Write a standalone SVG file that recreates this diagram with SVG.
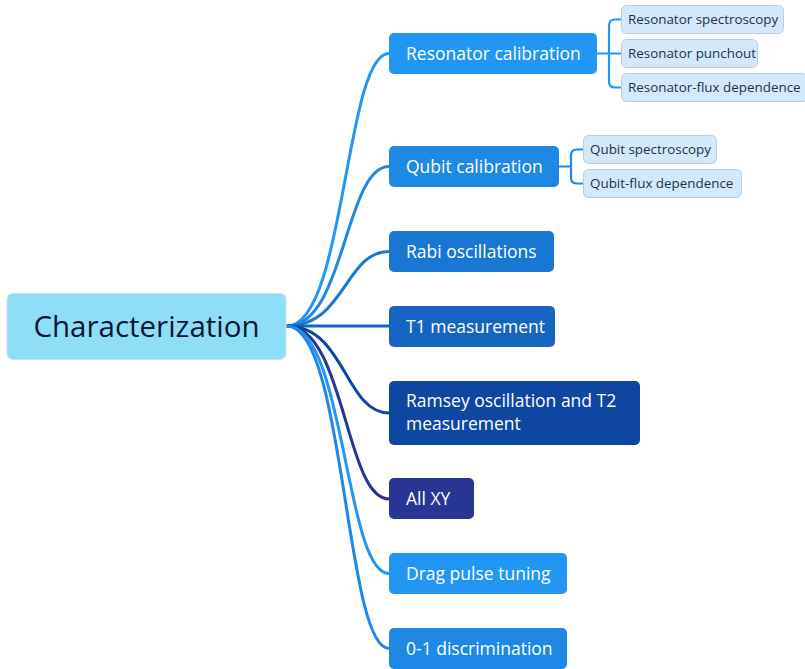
<svg xmlns="http://www.w3.org/2000/svg" width="805" height="669" viewBox="0 0 805 669">
  <style>
    .lbl { font-family: "Open Sans", "Noto Sans", "Liberation Sans", sans-serif; fill: #ffffff; font-size: 17.5px; }
    .sub rect { fill: #d4e8fb; stroke: #b9cde2; stroke-width: 1; }
    .sub text { font-family: "Open Sans", "Noto Sans", "Liberation Sans", sans-serif; fill: #1c3150; font-size: 13.4px; }
    .conn path { fill: none; stroke-width: 3; stroke-linecap: round; }
    .bracket path { fill: none; stroke-width: 2.2; stroke-linecap: round; stroke-linejoin: round; }
  </style>

  <!-- branches from the central topic -->
  <g id="connectors">
    <g class="conn">
      <path d="M287 326 C345 326 345 53.5 389 53.5" stroke="#2196f3"/>
      <path d="M287 326 C345 326 345 166.5 389 166.5" stroke="#1e88e5"/>
      <path d="M287 326 C345 326 345 251.5 389 251.5" stroke="#1976d2"/>
      <path d="M287 326 L389 326" stroke="#1565c0"/>
      <path d="M287 326 C345 326 345 413 389 413" stroke="#0d47a1"/>
      <path d="M287 326 C345 326 345 499 389 499" stroke="#283593"/>
      <path d="M287 326 C345 326 345 573.5 389 573.5" stroke="#2196f3"/>
      <path d="M287 326 C345 326 345 648.5 389 648.5" stroke="#1e88e5"/>
    </g>
    <g class="bracket">
      <path d="M597 53.5 H609" stroke="#2196f3"/>
      <path d="M621 19.5 H615 Q609 19.5 609 25.5 V81.5 Q609 87.5 615 87.5 H621 M609 53.5 H621" stroke="#2196f3"/>
      <path d="M559 166.5 H571" stroke="#1e88e5"/>
      <path d="M583 149.5 H577 Q571 149.5 571 155.5 V177.5 Q571 183.5 577 183.5 H583" stroke="#1e88e5"/>
    </g>
  </g>

  <!-- central topic -->
  <g id="root">
    <rect x="7" y="293.5" width="279" height="66" rx="6" fill="#8fdef8" stroke="#c6e3ee" stroke-width="1"/>
    <text x="146.5" y="337" text-anchor="middle" font-family="'Open Sans', 'Noto Sans', 'Liberation Sans', sans-serif" font-size="29.5" fill="#0b1838">Characterization</text>
  </g>

  <!-- main topics -->
  <g id="resonator-calibration">
    <rect x="389" y="33" width="208" height="41" rx="5" fill="#2196f3"/>
    <text class="lbl" x="406" y="59.5">Resonator calibration</text>
  </g>
  <g id="qubit-calibration">
    <rect x="389" y="146" width="170" height="41" rx="5" fill="#1e88e5"/>
    <text class="lbl" x="406" y="172.5">Qubit calibration</text>
  </g>
  <g id="rabi-oscillations">
    <rect x="389" y="231" width="165" height="41" rx="5" fill="#1976d2"/>
    <text class="lbl" x="406" y="257.5">Rabi oscillations</text>
  </g>
  <g id="t1-measurement">
    <rect x="389" y="306" width="166" height="41" rx="5" fill="#1565c0"/>
    <text class="lbl" x="406" y="332.5">T1 measurement</text>
  </g>
  <g id="ramsey">
    <rect x="389" y="381" width="251" height="64" rx="5" fill="#0d47a1"/>
    <text class="lbl" x="406" y="407">Ramsey oscillation and T2</text>
    <text class="lbl" x="406" y="430">measurement</text>
  </g>
  <g id="all-xy">
    <rect x="389" y="478" width="85" height="41" rx="5" fill="#283593"/>
    <text class="lbl" x="406" y="505">All XY</text>
  </g>
  <g id="drag-pulse-tuning">
    <rect x="389" y="553" width="178" height="41" rx="5" fill="#2196f3"/>
    <text class="lbl" x="406" y="579.5">Drag pulse tuning</text>
  </g>
  <g id="discrimination">
    <rect x="389" y="628" width="178" height="41" rx="5" fill="#1e88e5"/>
    <text class="lbl" x="406" y="654.5">0-1 discrimination</text>
  </g>

  <!-- subtopics -->
  <g id="resonator-spectroscopy" class="sub">
    <rect x="621.5" y="5.5" width="162" height="28" rx="5"/>
    <text x="628" y="24">Resonator spectroscopy</text>
  </g>
  <g id="resonator-punchout" class="sub">
    <rect x="621.5" y="39.5" width="136" height="28" rx="5"/>
    <text x="628" y="58">Resonator punchout</text>
  </g>
  <g id="resonator-flux" class="sub">
    <rect x="621.5" y="73.5" width="186" height="28" rx="5"/>
    <text x="628" y="92">Resonator-flux dependence</text>
  </g>
  <g id="qubit-spectroscopy" class="sub">
    <rect x="583.5" y="135.5" width="133" height="28" rx="5"/>
    <text x="590" y="154">Qubit spectroscopy</text>
  </g>
  <g id="qubit-flux" class="sub">
    <rect x="583.5" y="169.5" width="158" height="28" rx="5"/>
    <text x="590" y="188">Qubit-flux dependence</text>
  </g>
</svg>
